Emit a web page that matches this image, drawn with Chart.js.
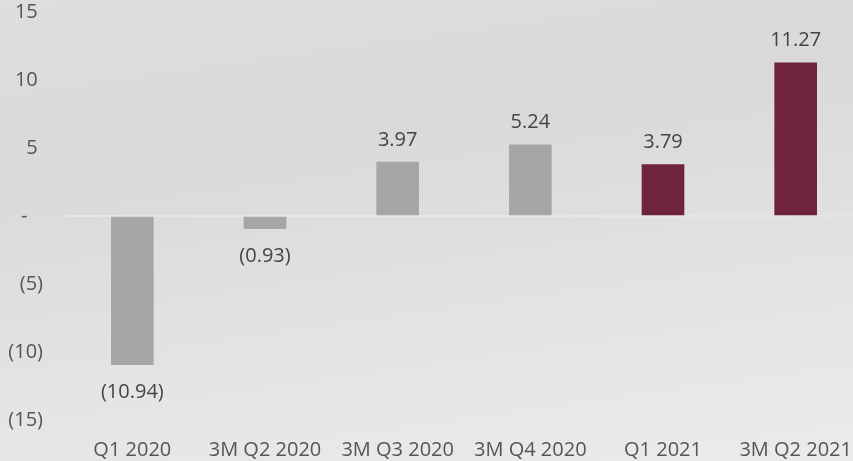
<!DOCTYPE html>
<html>
<head>
<meta charset="utf-8">
<script src="https://cdn.jsdelivr.net/npm/chart.js@4.4.1/dist/chart.umd.min.js"></script>
<style>
  html, body { margin: 0; padding: 0; overflow: hidden; }
  body {
    width: 853px; height: 461px;
    background: linear-gradient(172deg, #dedede 0%, #d9d9d9 30%, #e4e4e4 70%, #ebebeb 100%);
  }
  #wrap { width: 862px; height: 461px; }
</style>
</head>
<body>
<div id="wrap"><canvas id="netChart"></canvas></div>
<script>
// quarterly figures, negatives shown in brackets
const periods = ['Q1 2020', '3M Q2 2020', '3M Q3 2020', '3M Q4 2020', 'Q1 2021', '3M Q2 2021'];
const netValues = [-10.94, -0.93, 3.97, 5.24, 3.79, 11.27];
const barColors = ['#a6a6a6', '#a6a6a6', '#a6a6a6', '#a6a6a6', '#6e233e', '#6e233e'];
const yTicks = [15, 10, 5, 0, -5, -10, -15];

const fontFamily = '"Open Sans", sans-serif';
const fontSize = 20;

function fmt(v, digits) {
  if (v === 0) return '-';
  const s = Math.abs(v).toFixed(digits);
  return v < 0 ? '(' + s + ')' : s;
}

// value labels above / below each bar
const valueLabels = {
  id: 'valueLabels',
  afterDatasetsDraw(chart) {
    const ctx = chart.ctx;
    const meta = chart.getDatasetMeta(0);
    ctx.save();
    ctx.font = fontSize + 'px ' + fontFamily;
    ctx.fillStyle = '#444';
    ctx.textAlign = 'center';
    ctx.textBaseline = 'middle';
    meta.data.forEach((bar, i) => {
      const v = netValues[i];
      const y = v >= 0 ? bar.y - 22 : bar.y + 28;
      ctx.fillText(fmt(v, 2), bar.x, y);
    });
    ctx.restore();
  }
};

new Chart(document.getElementById('netChart'), {
  type: 'bar',
  data: {
    labels: periods,
    datasets: [{
      data: netValues,
      backgroundColor: barColors,
      barThickness: 42
    }]
  },
  options: {
    responsive: true,
    maintainAspectRatio: false,
    animation: false,
    layout: { padding: 0 },
    plugins: {
      legend: { display: false },
      tooltip: { enabled: false }
    },
    scales: {
      x: {
        grid: { display: false },
        border: { display: false },
        ticks: {
          color: '#555',
          font: { family: fontFamily, size: fontSize },
          padding: 10,
          maxRotation: 0,
          autoSkip: false
        },
        afterFit(axis) { axis.height = 41; }
      },
      y: {
        min: -15,
        max: 15,
        afterBuildTicks(axis) { axis.ticks = yTicks.map(v => ({ value: v })); },
        border: { display: false },
        grid: {
          drawTicks: false,
          color: ctx => ctx.tick && ctx.tick.value === 0 ? '#e6e6e6' : 'transparent',
          lineWidth: 2
        },
        ticks: {
          color: '#555',
          font: { family: fontFamily, size: fontSize },
          padding: 23,
          callback: v => v === 0 ? '-   ' : (v > 0 ? v + ' ' : fmt(v, 0))
        },
        afterFit(axis) {
          axis.width = 66;
          axis.paddingTop = 12;
          axis.paddingBottom = 0;
        }
      }
    }
  },
  plugins: [valueLabels]
});
</script>
</body>
</html>
